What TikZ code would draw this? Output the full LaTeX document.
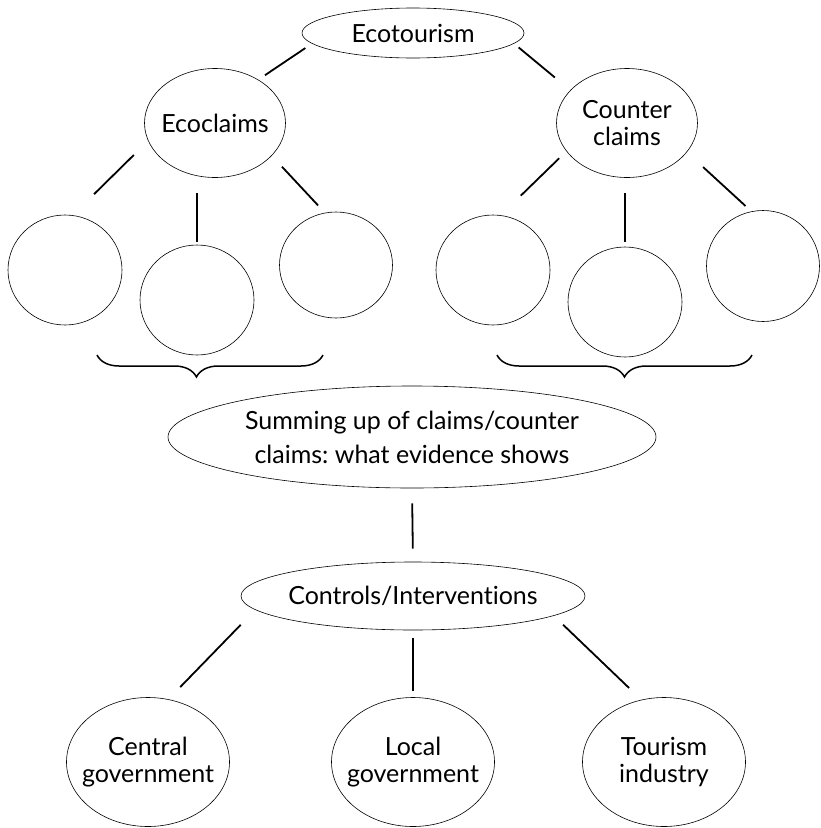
\documentclass[tikz,border=0pt]{standalone}
\usepackage{fontspec}
\setmainfont{Lato}[Ligatures=NoCommon]
\usepackage{tikz}
\usetikzlibrary{shapes.geometric,decorations.pathreplacing}
\frenchspacing
\tikzset{
  bubble/.style={draw, ellipse, line width=0.6pt, inner xsep=-30pt, inner ysep=0pt, align=center},
  link/.style={line width=1.8pt},
  bracket/.style={line width=1.5pt, decorate, decoration={brace, mirror, amplitude=22pt}}
}

\begin{document}
\begin{tikzpicture}[x=1pt, y=-1pt, font=\fontsize{25}{27}\selectfont]
  \useasboundingbox (0,0) rectangle (820,828);

  % top level
  \node[bubble, minimum width=222pt, minimum height=50pt] (eco) at (413,33) {Ecotourism};
  \node[bubble, minimum width=141pt, minimum height=109pt] (ecoclaims) at (215,123) {Ecoclaims};
  \node[bubble, minimum width=141pt, minimum height=109pt] (counter) at (627,123) {Counter\\claims};

  % empty bubbles
  \node[bubble, minimum width=114pt, minimum height=110pt] (eca) at (65,270) {};
  \node[bubble, minimum width=114pt, minimum height=110pt] (ecb) at (197,300) {};
  \node[bubble, minimum width=113pt, minimum height=106pt] (ecc) at (336,265) {};
  \node[bubble, minimum width=114pt, minimum height=110pt] (cca) at (493,270) {};
  \node[bubble, minimum width=114pt, minimum height=110pt] (ccb) at (625,302) {};
  \node[bubble, minimum width=113pt, minimum height=111pt] (ccc) at (763,266) {};

  \coordinate (bl1) at (97,355);
  \coordinate (bl2) at (323,355);
  \coordinate (br1) at (497,355);
  \coordinate (br2) at (752,355);
  \draw[bracket, decoration={aspect=0.44}] (bl1) -- (bl2);
  \draw[bracket] (br1) -- (br2);

  \node[bubble, minimum width=488pt, minimum height=102pt, font=\fontsize{25}{34}\selectfont] (sum) at (412,437)
    {Summing up of claims/counter\\claims: what evidence shows};
  \node[bubble, minimum width=344pt, minimum height=68pt] (ctrl) at (413,596) {Controls/Interventions};

  % bottom level
  \node[bubble, minimum width=163pt, minimum height=129pt] (central) at (148,762) {Central\\government};
  \node[bubble, minimum width=163pt, minimum height=129pt] (local) at (413,762) {Local\\government};
  \node[bubble, minimum width=163pt, minimum height=129pt] (industry) at (664,762) {Tourism\\industry};

  % connectors
  \draw[link, shorten <=8pt, shorten >=8pt] (eco.186) -- (ecoclaims.45);
  \draw[link, shorten <=6pt, shorten >=20pt] (eco.354) -- (counter.150);
  \draw[link, shorten <=20pt, shorten >=30pt] (ecoclaims.195) -- (eca.82);
  \draw[link, shorten <=15pt, shorten >=3pt] (ecb.north |- ecoclaims.south) -- (ecb.north);
  \draw[link, shorten <=15pt, shorten >=10pt] (ecoclaims.330) -- (ecc.102);
  \draw[link, shorten <=10pt, shorten >=28pt] (counter.205) -- (cca.82);
  \draw[link, shorten <=15pt, shorten >=5pt] (ccb.north |- counter.south) -- (ccb.north);
  \draw[link, shorten <=22pt, shorten >=8pt] (counter.334) -- (ccc.102);
  \draw[link, shorten <=15pt, shorten >=13pt] (sum.south) -- (ctrl.north);
  \draw[link, shorten <=21pt, shorten >=17pt] (ctrl.185) -- (central.72);
  \draw[link, shorten <=8pt, shorten >=6pt] (ctrl.south) -- (local.north);
  \draw[link, shorten <=13pt, shorten >=17pt] (ctrl.352) -- (industry.110);
\end{tikzpicture}
\end{document}
